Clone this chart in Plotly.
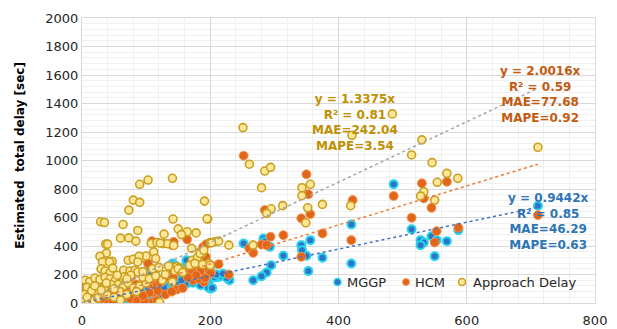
import plotly.graph_objects as go

# ---------------- data ----------------
mggp_x = [711, 486, 587, 514, 528, 533, 528, 545, 553, 569, 550, 420, 420, 375, 356, 350, 342, 343, 353,
          252, 283, 285, 293, 314, 295, 288, 280, 267, 213, 230, 200, 200, 189,
          163, 173, 168, 141, 145, 207, 215, 226, 184, 190, 197, 157, 165, 173, 137, 145, 153, 111, 118, 125,
          197, 203, 106, 114, 103, 108, 114, 95, 103, 114, 76, 84, 64, 72, 33, 40, 45, 14, 25, 163, 173,
          50, 55, 60, 85, 90, 120, 130, 135, 150, 160, 178, 182, 175, 180, 120, 128, 92, 98, 70, 78, 10, 20, 30,
          150, 155, 125, 140, 185, 193, 210, 220]
mggp_y = [683, 833, 511, 518, 441, 425, 406, 469, 441, 434, 328, 551, 277, 317, 441, 331, 406, 371, 225,
          418, 453, 429, 394, 331, 265, 214, 188, 160, 183, 160, 242, 101, 160,
          285, 270, 250, 277, 265, 180, 190, 175, 150, 165, 140, 145, 140, 142, 115, 125, 110, 100, 110, 90,
          110, 105, 40, 35, 225, 215, 230, 90, 105, 80, 80, 90, 60, 70, 10, 15, 5, 0, 3, 300, 288,
          30, 45, 50, 60, 75, 120, 125, 150, 170, 180, 190, 210, 220, 245, 60, 100, 50, 40, 30, 40, 5, 10, 20,
          130, 160, 150, 150, 125, 155, 200, 205]

hcm_x = [711, 587, 569, 553, 550, 545, 533, 530, 514, 486, 422, 420, 375, 356, 353, 350, 342, 342,
         252, 285, 314, 294, 280, 288, 261, 267, 213, 229, 201, 193, 189, 190, 164, 140, 143, 109, 194, 103,
         160, 172, 185, 198, 200, 141, 148, 156, 127, 135, 142, 111, 117, 122, 173, 182, 192, 148, 157,
         112, 118, 105, 72, 77, 98, 105, 2, 4, 5, 56, 66, 76, 86, 98, 40, 48, 111, 117, 17, 25, 33, 36,
         60, 65, 85, 90, 50, 45, 130, 140, 95, 30, 20, 10, 15, 178, 165]
hcm_y = [617, 528, 851, 504, 425, 668, 734, 840, 598, 751, 722, 441, 488, 624, 763, 903, 594, 324,
         1034, 652, 476, 465, 411, 406, 383, 352, 272, 200, 214, 324, 394, 148, 446, 406, 429, 434, 413, 277,
         215, 225, 220, 230, 207, 210, 225, 218, 165, 185, 175, 110, 130, 145, 160, 170, 175, 95, 105,
         75, 85, 72, 211, 183, 183, 160, 110, 130, 145, 60, 45, 30, 15, 10, 15, 8, 5, 18, 70, 65, 136, 59,
         120, 100, 130, 110, 85, 100, 60, 80, 50, 30, 40, 20, 60, 195, 180]

appr_x = [141, 90, 103, 80, 90, 191, 73, 29, 35, 142, 64, 196, 87, 150, 164, 155, 178, 60, 73, 84, 108,
          127, 133, 143, 37, 40, 200, 207, 171, 38, 28, 112, 115, 88, 95, 100, 47, 32, 172, 176, 180, 185,
          144, 148, 152, 30, 65, 75, 83, 121,
          251, 261, 285, 294, 280, 343, 356, 343, 352, 349, 375, 313, 295, 288, 213, 202, 229, 267, 198, 187,
          419, 421, 484, 530, 514, 546, 569, 554, 586, 533, 528, 550, 711, 195,
          72, 80, 89, 87, 43, 30, 36, 44, 48, 87, 76, 66, 5, 12, 20, 28, 36, 44, 52, 8, 17, 26, 35, 4, 12, 22,
          32, 40, 2, 10, 18, 56, 64, 72, 80, 90, 100, 95, 105, 115, 125, 130, 60, 70, 50, 25, 15, 45, 55, 110,
          120, 135, 141, 145, 150, 157, 168, 176, 188, 200, 128, 117, 122, 184, 190, 60, 85, 20, 30, 8, 38, 50,
          70, 95]
appr_y = [875, 833, 863, 722, 706, 715, 652, 570, 565, 589, 551, 589, 509, 520, 500, 480, 492, 455, 457, 434,
          418, 416, 416, 404, 413, 413, 425, 430, 383, 350, 328, 359, 312, 300, 320, 330, 293, 288, 300, 270,
          320, 355, 250, 255, 245, 237, 230, 225, 230, 5,
          1231, 974, 926, 952, 809, 809, 833, 753, 668, 563, 692, 683, 661, 629, 434, 422, 406, 406, 277, 347,
          683, 1177, 1327, 1145, 1039, 985, 910, 847, 875, 781, 750, 722, 1093, 591,
          300, 307, 328, 288, 288, 240, 225, 215, 245, 218, 195, 183, 160, 150, 175, 165, 180, 170, 160, 110,
          105, 108, 110, 60, 55, 68, 62, 55, 10, 5, 20, 130, 115, 140, 105, 120, 140, 180, 170, 190, 160, 200,
          80, 60, 40, 35, 85, 130, 195, 240, 250, 260, 148, 225, 240, 215, 265, 278, 270, 265, 483, 425, 420,
          347, 370, 20, 80, 120, 90, 40, 140, 100, 170, 220]

# dotted trendlines (through origin), slopes as drawn in the picture
slope_mggp = 0.945
slope_hcm = 1.37
slope_appr = 2.12
x_max_fit = 711

label_appr = ["y = 1.3375x", "R² = 0.81", "MAE=242.04", "MAPE=3.54"]
label_hcm = ["y = 2.0016x", "R² = 0.59", "MAE=77.68", "MAPE=0.92"]
label_mggp = ["y = 0.9442x", "R² = 0.85", "MAE=46.29", "MAPE=0.63"]

series_names = ["MGGP", "HCM", "Approach Delay"]

FONT = "DejaVu Sans"
MGGP_STYLE = dict(size=8, color="#2F73C4", line=dict(color="#27D3EE", width=2))
HCM_STYLE = dict(size=9, color="#E2661A", line=dict(color="#F39A5A", width=1))
APPR_STYLE = dict(size=8, color="#FFE699", line=dict(color="#C9A020", width=1.6))

fig = go.Figure()

fig.add_trace(go.Scatter(x=mggp_x, y=mggp_y, mode="markers", name=series_names[0], marker=MGGP_STYLE))
fig.add_trace(go.Scatter(x=hcm_x, y=hcm_y, mode="markers", name=series_names[1], marker=HCM_STYLE))
fig.add_trace(go.Scatter(x=appr_x, y=appr_y, mode="markers", name=series_names[2], marker=APPR_STYLE))

fit_x = [0, x_max_fit]
fig.add_trace(go.Scatter(x=fit_x, y=[slope_mggp * v for v in fit_x], mode="lines",
                         line=dict(color="#4472C4", width=1.5, dash="dot"), hoverinfo="skip"))
fig.add_trace(go.Scatter(x=fit_x, y=[slope_hcm * v for v in fit_x], mode="lines",
                         line=dict(color="#ED7D31", width=1.5, dash="dot"), hoverinfo="skip"))
fig.add_trace(go.Scatter(x=fit_x, y=[slope_appr * v for v in fit_x], mode="lines",
                         line=dict(color="#A5A5A5", width=1.5, dash="dot"), hoverinfo="skip"))

axis_common = dict(
    showgrid=True, gridcolor="#D9D9D9", gridwidth=1, automargin=False,
    zeroline=False, showline=True, linecolor="#D9D9D9", linewidth=1, mirror=True,
    ticks="", tickfont=dict(family=FONT, size=13, color="#262626"),
)
fig.update_xaxes(range=[0, 800], dtick=200, tick0=0, ticklabelstandoff=5,
                 minor=dict(dtick=40, showgrid=True, gridcolor="#F0F0F0"), **axis_common)
fig.update_yaxes(range=[0, 2000], dtick=200, tick0=0,
                 minor=dict(dtick=40, showgrid=True, gridcolor="#F0F0F0"), **axis_common)


def add_label(lines, color, xc, ytop):
    fig.add_annotation(
        text="<br>".join(lines), xref="x", yref="y", x=xc, y=ytop,
        xanchor="center", yanchor="top", showarrow=False, align="center",
        font=dict(family=FONT, size=12, color=color, weight="bold"),
    )


add_label(label_appr, "#BF9000", 425, 1493)
add_label(label_hcm, "#C55A11", 715, 1693)
add_label(label_mggp, "#2E75B6", 728, 797)

fig.add_annotation(
    text="<b>Estimated  total delay [sec]</b>", xref="paper", yref="paper",
    x=-0.121, y=0.52, xanchor="center", yanchor="middle", textangle=-90, showarrow=False,
    font=dict(family=FONT, size=12, color="#000000"),
)

# ---- custom legend (inside plot, bottom right) ----
PW, PH, L, T = 513, 285, 82, 18


def px_to_paper(px, py):
    return (px - L) / PW, 1 - (py - T) / PH


leg_y_px = 282
lx0, ly0 = px_to_paper(333, 273)
lx1, ly1 = px_to_paper(589, 292)
fig.add_shape(type="rect", xref="paper", yref="paper", x0=lx0, x1=lx1, y0=ly1, y1=ly0,
              fillcolor="white", line=dict(width=0), layer="below")

legend_items = [
    (series_names[0], 337.5, 345, MGGP_STYLE),
    (series_names[1], 406, 413, HCM_STYLE),
    (series_names[2], 462, 471, APPR_STYLE),
]
for name, mx, tx, st in legend_items:
    ax, ay = px_to_paper(mx, leg_y_px)
    r = 3.5
    fig.add_shape(type="circle", xref="paper", yref="paper", xsizemode="pixel", ysizemode="pixel",
                  xanchor=ax, yanchor=ay, x0=-r, x1=r, y0=-r, y1=r,
                  fillcolor=st["color"], line=dict(color=st["line"]["color"], width=min(st["line"]["width"], 1.5)))
    tx_p, ty_p = px_to_paper(tx, leg_y_px)
    fig.add_annotation(text=name, xref="paper", yref="paper", x=tx_p, y=ty_p,
                       xanchor="left", yanchor="middle", showarrow=False,
                       font=dict(family=FONT, size=13, color="#262626"))

fig.update_layout(
    width=617, height=329,
    margin=dict(l=L, r=22, t=T, b=26, autoexpand=False),
    paper_bgcolor="white", plot_bgcolor="white",
    font=dict(family=FONT, size=13, color="#262626"),
    showlegend=False,
)

fig.write_html("out.html")
